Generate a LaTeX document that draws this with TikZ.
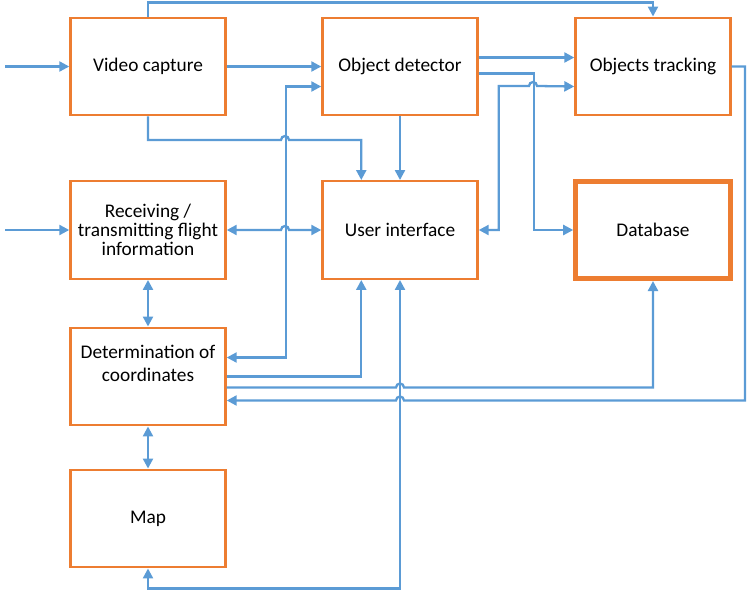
\documentclass[tikz,border=0pt]{standalone}
\usepackage{fontspec}
\setmainfont{Carlito}
\usepackage{tikz}
\usetikzlibrary{arrows.meta,positioning,calc}
\usepackage{xcolor}
\definecolor{boxorange}{RGB}{237,125,49}
\definecolor{flowblue}{RGB}{91,155,213}

\begin{document}
\begin{tikzpicture}[x=0.02cm, y=-0.02cm, >={Triangle[length=2mm,width=2mm]}, every node/.style={font=\fontsize{11}{11}\selectfont}]
\tikzset{block/.style={draw=boxorange, line width=1.4pt, fill=white, minimum width=3.1cm, minimum height=1.95cm, inner sep=0pt, align=center}}
\tikzset{flow/.style={draw=flowblue, line width=1.3pt}}
\useasboundingbox (0,0) rectangle (747,589);
\node[block] (vc) at (148,66.5) {Video capture};
\node[block] (od) at (400,66.5) {Object detector};
\node[block] (ot) at (653,66.5) {Objects tracking};
\node[block] (rx) at (148,230) {Receiving /\\transmitting flight\\information};
\node[block] (ui) at (400,230) {User interface};
\node[block, line width=2.6pt] (db) at (653,230) {Database};
\node[block] (dc) at (148,376.5) {Determination of\\[2pt]coordinates\\[4pt]};
\node[block] (mp) at (148,518.5) {Map};
\coordinate (in1) at (5,66.5);
\coordinate (in2) at (5,230);
\draw[flow,->] (in1) -- (vc);
\draw[flow,->] (in2) -- (rx);
\draw[flow,->] (vc) -- (od);
\draw[flow,->] (vc.north) -- ++(0,-14) -| (ot.north);
\draw[flow,->] (vc.south) |- (281,140) arc[start angle=180, end angle=360, radius=4] -| ([xshift=0.8cm]ui.north west);
\draw[flow,->] (od) -- (ui);
\draw[flow,->] ([yshift=0.18cm]od.east) -- ([yshift=0.18cm]ot.west);
\draw[flow,->] ([yshift=-0.14cm]od.east) -- ++(55,0) |- (db.west);
\draw[flow,<->] (ui.east) -- ++(20,0) |- (529,86) arc[start angle=180, end angle=360, radius=4] -- ([yshift=-0.4cm]ot.west);
\draw[flow,<->] (rx.east) -- (281,230) arc[start angle=180, end angle=360, radius=4] -- (ui.west);
\draw[flow,<->] ([yshift=0.38cm]dc.east) -- ++(59,0) |- ([yshift=-0.4cm]od.west);
\draw[flow,->] (dc.east) -| ([xshift=0.8cm]ui.south west);
\draw[flow,->] ([yshift=-0.22cm]dc.east) -- (396,387.5) arc[start angle=180, end angle=360, radius=4] -| (db.south);
\draw[flow,<-] ([yshift=-0.48cm]dc.east) -- (396,400.5) arc[start angle=180, end angle=360, radius=4] -- (745,400.5) |- (ot.east);
\draw[flow,<->] (rx) -- (dc);
\draw[flow,<->] (dc) -- (mp);
\draw[flow,<->] (mp.south) -- ++(0,20) -| (ui.south);
\end{tikzpicture}
\end{document}
